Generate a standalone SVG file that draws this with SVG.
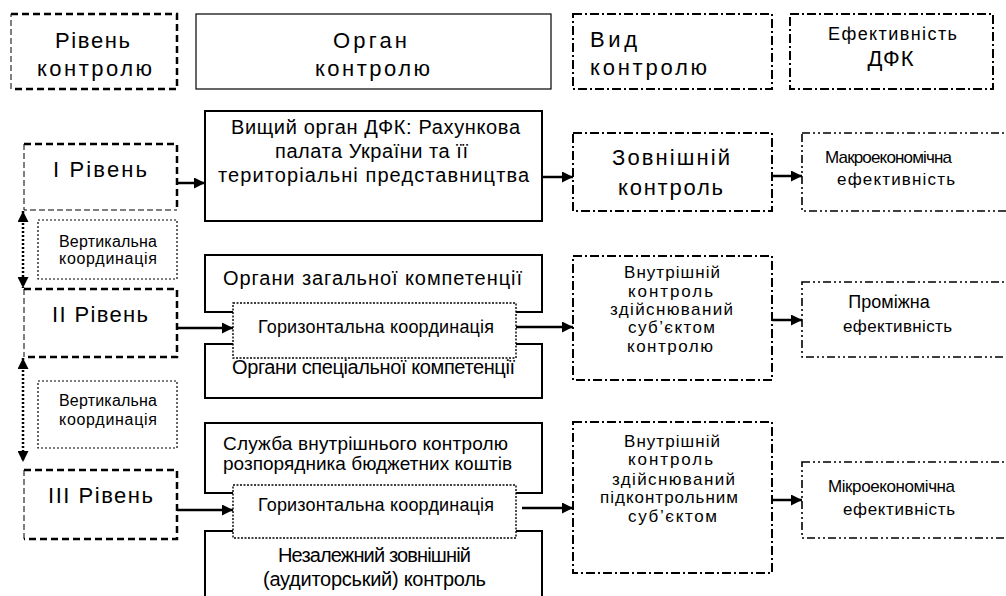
<svg xmlns="http://www.w3.org/2000/svg" width="1006" height="596" viewBox="0 0 1006 596">
<defs>
<style>
text{font-family:"Liberation Sans",Arial,sans-serif;fill:#000;text-anchor:middle}
.t22{font-size:22px}.t20{font-size:20px}.t19{font-size:19px}.t18{font-size:18px}.t17{font-size:17px}.t16{font-size:16px}
.bg{fill:#fff;stroke:none}
.dthick{fill:none;stroke:#000;stroke-width:2.5;stroke-dasharray:7 4}
.dthin{fill:none;stroke:#000;stroke-width:1;stroke-dasharray:6 3}
.solid{fill:#fff;stroke:#000;stroke-width:2}
.thin{fill:#fff;stroke:#000;stroke-width:1.2}
.dd{fill:#fff;stroke:#000;stroke-width:2;stroke-dasharray:9 3 2 3}
.ddd{fill:#fff;stroke:#000;stroke-width:1.6;stroke-dasharray:8 3 2 3 2 3}
.dot{fill:#fff;stroke:#000;stroke-width:1.2;stroke-dasharray:2 2}
.hc{fill:#fff;stroke:#000;stroke-width:1.4;stroke-dasharray:2 1.5}
.arr{stroke:#000;stroke-width:2.5;fill:none;marker-end:url(#ah)}
.varr{stroke:#000;stroke-width:2.5;fill:none;stroke-dasharray:2 2;marker-start:url(#ah);marker-end:url(#ah)}
</style>
<marker id="ah" markerUnits="userSpaceOnUse" markerWidth="11" markerHeight="11" refX="11" refY="5.5" orient="auto-start-reverse" viewBox="0 0 11 11">
<path d="M0,0 L11,5.5 L0,11 z" fill="#000"/>
</marker>
</defs>
<rect x="0" y="0" width="1006" height="596" fill="#fff"/>

<g id="hdr-level">
<rect class="bg" x="11" y="14" width="166" height="75"/>
<path class="dthin" d="M11,89 V14"/>
<path class="dthick" d="M11,14 H177 V89 H11"/>
<text class="t22" x="92.5" y="48" textLength="75" lengthAdjust="spacing">Рівень</text>
<text class="t22" x="94.5" y="76" textLength="115" lengthAdjust="spacing">контролю</text>
</g>
<g id="hdr-organ">
<rect class="thin" x="196" y="14" width="355" height="75"/>
<text class="t22" x="370" y="48" textLength="74" lengthAdjust="spacing">Орган</text>
<text class="t22" x="372.5" y="76" textLength="115" lengthAdjust="spacing">контролю</text>
</g>
<g id="hdr-vid">
<rect class="dd" x="573" y="14" width="199" height="75"/>
<text class="t22" x="613.5" y="47" textLength="47" lengthAdjust="spacing">Вид</text>
<text class="t22" x="648.5" y="75" textLength="117" lengthAdjust="spacing">контролю</text>
</g>
<g id="hdr-eff">
<rect class="dd" x="790" y="14" width="203" height="75"/>
<text class="t18" x="892.5" y="40" textLength="129" lengthAdjust="spacing">Ефективність</text>
<text class="t22" x="890.5" y="66" textLength="46" lengthAdjust="spacing">ДФК</text>
</g>

<g id="level1">
<rect class="bg" x="24" y="144" width="153" height="66"/>
<path class="dthin" d="M24,144 V210 H177"/>
<path class="dthick" d="M24,144 H177 V210"/>
<text class="t22" x="100" y="177" textLength="94" lengthAdjust="spacing">І Рівень</text>
</g>
<g id="vcoord1">
<rect class="dot" x="38" y="220" width="139" height="59"/>
<text class="t16" x="108" y="247" textLength="98" lengthAdjust="spacing">Вертикальна</text>
<text class="t16" x="108" y="264" textLength="98" lengthAdjust="spacing">координація</text>
</g>
<g id="level2">
<rect class="bg" x="24" y="289" width="153" height="68"/>
<path class="dthin" d="M24,289 V357"/>
<path class="dthick" d="M24,289 H177 V357 H24"/>
<text class="t22" x="100" y="322" textLength="96" lengthAdjust="spacing">ІІ Рівень</text>
</g>
<g id="vcoord2">
<rect class="dot" x="38" y="381" width="139" height="67"/>
<text class="t16" x="108" y="406" textLength="98" lengthAdjust="spacing">Вертикальна</text>
<text class="t16" x="108" y="425" textLength="98" lengthAdjust="spacing">координація</text>
</g>
<g id="level3">
<rect class="bg" x="24" y="470" width="153" height="69"/>
<path class="dthin" d="M24,470 V539"/>
<path class="dthick" d="M24,470 H177 V539 H24"/>
<text class="t22" x="100.5" y="503" textLength="105" lengthAdjust="spacing">ІІІ Рівень</text>
</g>

<g id="organ1">
<rect class="solid" x="205" y="111" width="337" height="110"/>
<text class="t20" x="375.5" y="134" textLength="289" lengthAdjust="spacing">Вищий орган ДФК: Рахункова</text>
<text class="t20" x="371.5" y="158" textLength="193" lengthAdjust="spacing">палата України та її</text>
<text class="t20" x="373.5" y="182" textLength="311" lengthAdjust="spacing">територіальні представництва</text>
</g>
<g id="organ2a">
<rect class="solid" x="205" y="255" width="337" height="57"/>
<text class="t20" x="372.5" y="285" textLength="299" lengthAdjust="spacing">Органи загальної компетенції</text>
</g>
<g id="organ2b">
<rect class="solid" x="205" y="344" width="337" height="54"/>
<text class="t20" x="373.5" y="374" textLength="283" lengthAdjust="spacing">Органи спеціальної компетенції</text>
</g>
<g id="hcoord2">
<rect class="hc" x="233" y="303" width="283" height="55"/>
<text class="t18" x="376" y="333" textLength="236" lengthAdjust="spacing">Горизонтальна координація</text>
</g>
<g id="organ3a">
<rect class="solid" x="205" y="423" width="337" height="70"/>
<text class="t19" x="365.5" y="450" textLength="285" lengthAdjust="spacing">Служба внутрішнього контролю</text>
<text class="t19" x="367.5" y="470" textLength="289" lengthAdjust="spacing">розпорядника бюджетних коштів</text>
</g>
<g id="organ3b">
<rect class="solid" x="205" y="531" width="337" height="90"/>
<text class="t20" x="374.5" y="562" textLength="193" lengthAdjust="spacing">Незалежний зовнішній</text>
<text class="t20" x="374.5" y="586" textLength="223" lengthAdjust="spacing">(аудиторський) контроль</text>
</g>
<g id="hcoord3">
<rect class="hc" x="233" y="485" width="283" height="53"/>
<text class="t18" x="376" y="511" textLength="236" lengthAdjust="spacing">Горизонтальна координація</text>
</g>

<g id="vid1">
<rect class="dd" x="573" y="133" width="199" height="78"/>
<text class="t22" x="671" y="165" textLength="118" lengthAdjust="spacing">Зовнішній</text>
<text class="t22" x="670.5" y="195" textLength="105" lengthAdjust="spacing">контроль</text>
</g>
<g id="vid2">
<rect class="dd" x="573" y="256" width="199" height="124"/>
<text class="t17" x="672" y="278" textLength="96" lengthAdjust="spacing">Внутрішній</text>
<text class="t17" x="670.5" y="297" textLength="85" lengthAdjust="spacing">контроль</text>
<text class="t17" x="671.5" y="315" textLength="123" lengthAdjust="spacing">здійснюваний</text>
<text class="t17" x="671.5" y="333" textLength="87" lengthAdjust="spacing">суб’єктом</text>
<text class="t17" x="670" y="352" textLength="86" lengthAdjust="spacing">контролю</text>
</g>
<g id="vid3">
<rect class="dd" x="573" y="422" width="199" height="151"/>
<text class="t17" x="672" y="447" textLength="96" lengthAdjust="spacing">Внутрішній</text>
<text class="t17" x="670.5" y="465" textLength="85" lengthAdjust="spacing">контроль</text>
<text class="t17" x="673.5" y="485" textLength="123" lengthAdjust="spacing">здійснюваний</text>
<text class="t17" x="669" y="503" textLength="138" lengthAdjust="spacing">підконтрольним</text>
<text class="t17" x="672.5" y="522" textLength="89" lengthAdjust="spacing">суб’єктом</text>
</g>

<g id="eff1">
<rect class="ddd" x="802" y="133" width="210" height="78"/>
<text class="t17" x="888.5" y="163" textLength="127" lengthAdjust="spacing">Макроекономічна</text>
<text class="t17" x="896" y="185" textLength="118" lengthAdjust="spacing">ефективність</text>
</g>
<g id="eff2">
<rect class="ddd" x="802" y="282" width="210" height="75"/>
<text class="t18" x="889" y="308">Проміжна</text>
<text class="t17" x="897.5" y="332" textLength="109" lengthAdjust="spacing">ефективність</text>
</g>
<g id="eff3">
<rect class="ddd" x="802" y="462" width="210" height="76"/>
<text class="t17" x="891.5" y="492" textLength="127" lengthAdjust="spacing">Мікроекономічна</text>
<text class="t17" x="899" y="515" textLength="112" lengthAdjust="spacing">ефективність</text>
</g>

<g id="connectors">
<line class="arr" x1="177" y1="183" x2="205" y2="183"/>
<line class="arr" x1="542" y1="177" x2="573" y2="177"/>
<line class="arr" x1="772" y1="176" x2="802" y2="176"/>
<line class="arr" x1="177" y1="328" x2="233" y2="328"/>
<line class="arr" x1="516" y1="327" x2="573" y2="327"/>
<line class="arr" x1="772" y1="320" x2="802" y2="320"/>
<line class="arr" x1="177" y1="510" x2="233" y2="510"/>
<line class="arr" x1="522" y1="508" x2="573" y2="508"/>
<line class="arr" x1="772" y1="500" x2="802" y2="500"/>
<line class="varr" x1="23" y1="211" x2="23" y2="288"/>
<line class="varr" x1="23" y1="358" x2="23" y2="462"/>
</g>
</svg>
